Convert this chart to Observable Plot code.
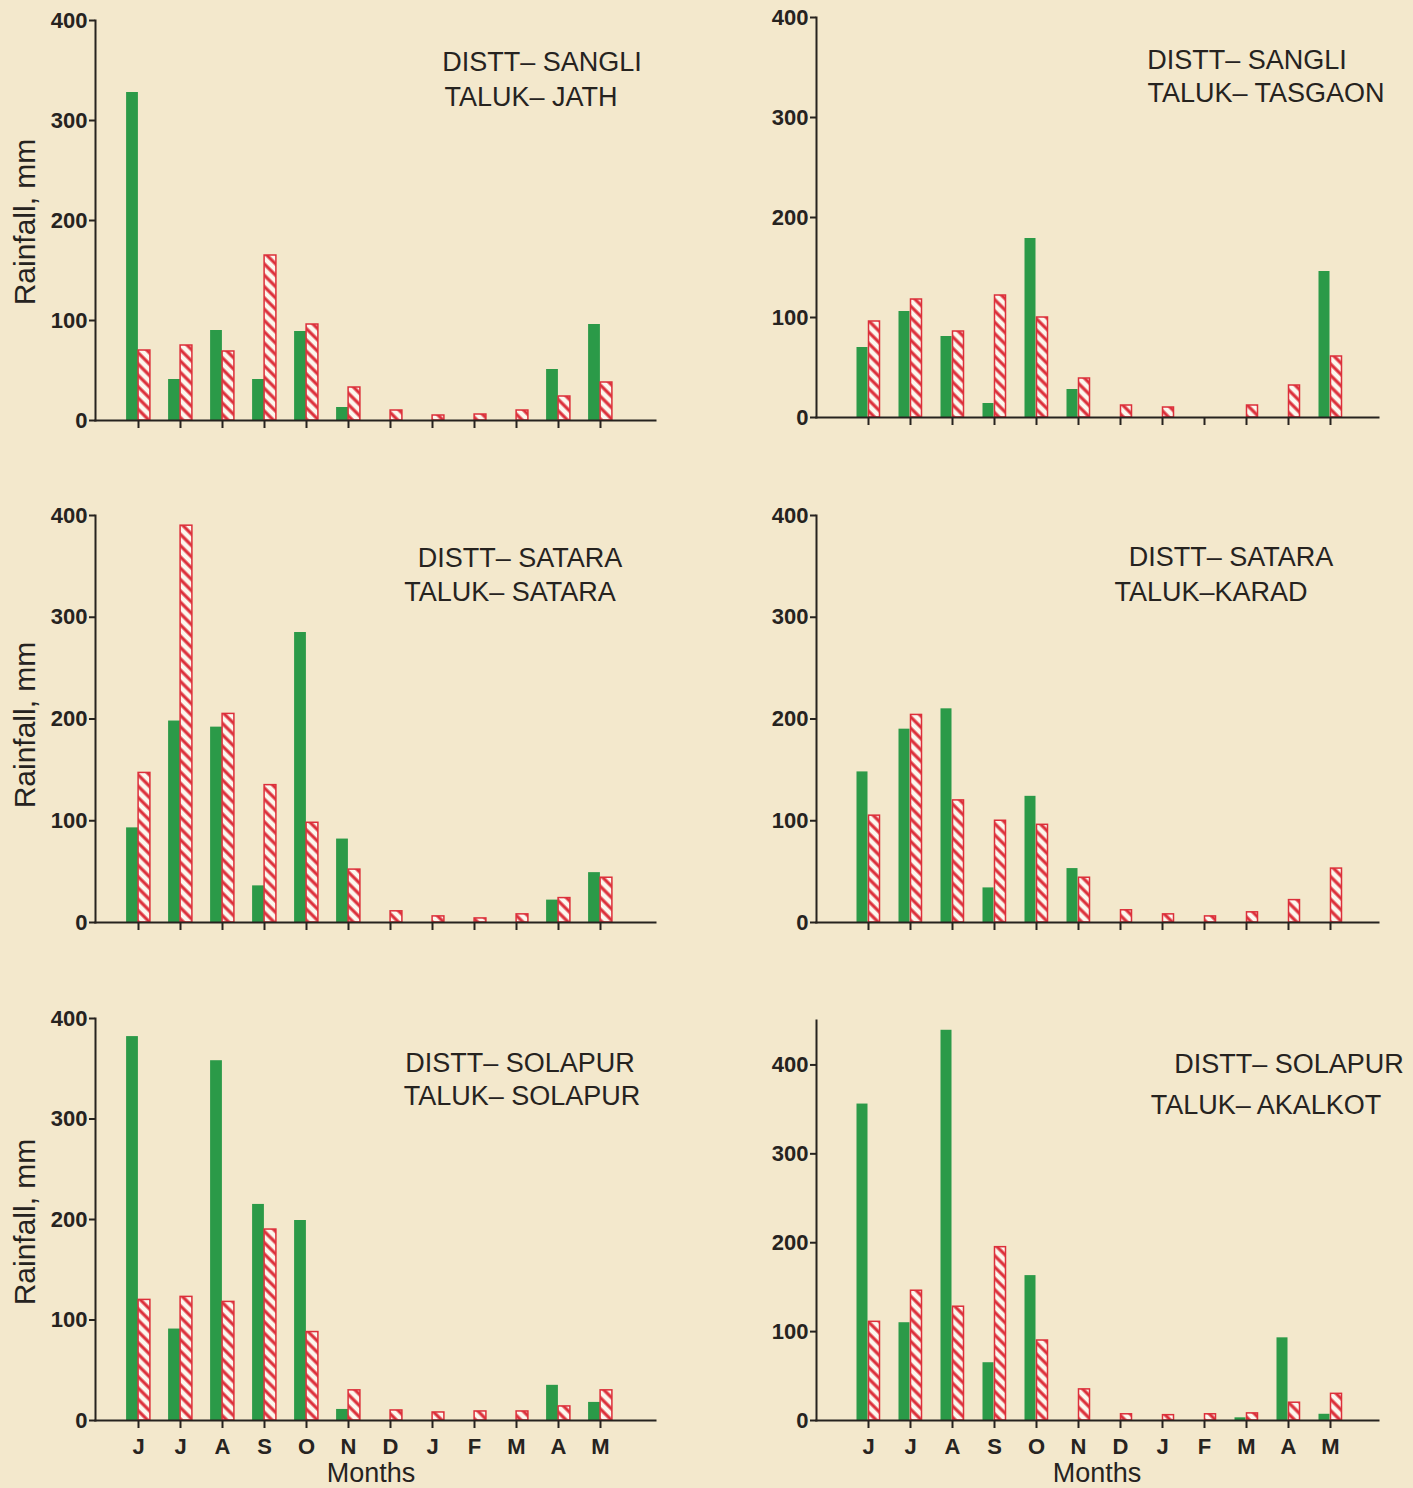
<!DOCTYPE html>
<html><head><meta charset="utf-8">
<script src="https://cdn.jsdelivr.net/npm/d3@7"></script>
<script src="https://cdn.jsdelivr.net/npm/@observablehq/plot@0.6"></script>
<style>
body{margin:0;background:#f3e8cc;}
#wrap{position:relative;width:1413px;height:1488px;overflow:hidden;background:#f3e8cc;font-family:"Liberation Sans",Arial,sans-serif;color:#26231f;}
.panel{position:absolute;}
.title{position:absolute;font-size:27px;white-space:nowrap;transform:translate(-50%,-50%);line-height:1;}
.ylab{position:absolute;font-size:30px;white-space:nowrap;line-height:1;transform:translate(-50%,-50%) rotate(-90deg);}
.xlab{position:absolute;font-size:27px;white-space:nowrap;line-height:1;transform:translate(-50%,-50%);}
</style></head><body>
<svg width="0" height="0" style="position:absolute">
<defs>
<pattern id="hatch" patternUnits="userSpaceOnUse" width="8" height="8" patternTransform="rotate(-45)">
<rect width="8" height="8" fill="#fcf7ee"/>
<line x1="4" y1="0" x2="4" y2="8" stroke="#dc2f3a" stroke-width="3.2"/>
</pattern>
</defs>
</svg>
<div id="wrap"></div>
<script>
// ---- data ----
const months = ["Jun","Jul","Aug","Sep","Oct","Nov","Dec","Jan","Feb","Mar","Apr","May"];
const monthLabels = ["J","J","A","S","O","N","D","J","F","M","A","M"];
const yTicks = [0,100,200,300,400];

const jathGreen    = [328, 41, 90, 41, 89, 13, 0, 0, 0, 0, 51, 96];
const jathRed      = [70, 75, 69, 165, 96, 33, 10, 5, 6, 10, 24, 38];
const tasgaonGreen = [70, 106, 81, 14, 179, 28, 0, 0, 0, 0, 0, 146];
const tasgaonRed   = [96, 118, 86, 122, 100, 39, 12, 10, 0, 12, 32, 61];
const sataraGreen  = [93, 198, 192, 36, 285, 82, 0, 0, 0, 0, 22, 49];
const sataraRed    = [147, 390, 205, 135, 98, 52, 11, 6, 4, 8, 24, 44];
const karadGreen   = [148, 190, 210, 34, 124, 53, 0, 0, 0, 0, 0, 0];
const karadRed     = [105, 204, 120, 100, 96, 44, 12, 8, 6, 10, 22, 53];
const solapurGreen = [382, 91, 358, 215, 199, 11, 0, 0, 0, 0, 35, 18];
const solapurRed   = [120, 123, 118, 190, 88, 30, 10, 8, 9, 9, 14, 30];
const akalkotGreen = [356, 110, 439, 65, 163, 0, 0, 0, 0, 3, 93, 7];
const akalkotRed   = [111, 146, 128, 195, 90, 35, 7, 6, 7, 8, 20, 30];

const titles = [
  ["DISTT\u2013 SANGLI", "TALUK\u2013 JATH"],
  ["DISTT\u2013 SANGLI", "TALUK\u2013 TASGAON"],
  ["DISTT\u2013 SATARA", "TALUK\u2013 SATARA"],
  ["DISTT\u2013 SATARA", "TALUK\u2013KARAD"],
  ["DISTT\u2013 SOLAPUR", "TALUK\u2013 SOLAPUR"],
  ["DISTT\u2013 SOLAPUR", "TALUK\u2013 AKALKOT"]
];
const greens = [jathGreen, tasgaonGreen, sataraGreen, karadGreen, solapurGreen, akalkotGreen];
const reds   = [jathRed, tasgaonRed, sataraRed, karadRed, solapurRed, akalkotRed];
const yMax   = [400, 400, 400, 400, 400, 450];

// ---- layout ----
const GREEN = "#2b9a48", RED = "#dc2f3a", INK = "#26231f";
const layout = [
  {left:0,   top:0,   width:706, height:460, mt:20, mb:40, ml:95,  mr:51, pad:0.635, align:0.39,
   t1:[542,62], t2:[531,97], ylab:[25,222]},
  {left:706, top:0,   width:707, height:460, mt:17, mb:43, ml:110, mr:35, pad:0.535, align:0.53,
   t1:[1247,60], t2:[1266,93]},
  {left:0,   top:490, width:706, height:470, mt:25, mb:38, ml:95,  mr:51, pad:0.635, align:0.39,
   t1:[520,558], t2:[510,592], ylab:[25,725]},
  {left:706, top:490, width:707, height:470, mt:25, mb:38, ml:110, mr:35, pad:0.535, align:0.53,
   t1:[1231,557], t2:[1211,592]},
  {left:0,   top:990, width:706, height:498, mt:28, mb:68, ml:95,  mr:51, pad:0.635, align:0.39,
   t1:[520,1063], t2:[522,1096], ylab:[25,1222], xlab:[371,1473], bottom:true},
  {left:706, top:990, width:707, height:498, mt:30, mb:68, ml:110, mr:35, pad:0.535, align:0.53,
   t1:[1289,1064], t2:[1266,1105], xlab:[1097,1473], bottom:true}
];

const wrap = document.getElementById("wrap");

layout.forEach((L, i) => {
  const rows = months.map((m, k) => ({month: m, green: greens[i][k], red: reds[i][k]}));
  const bw = d3.scaleBand().domain(months).range([L.ml, L.width - L.mr])
    .paddingInner(0).paddingOuter(L.pad).align(L.align).bandwidth();
  const gW = 12, rW = 12;
  const gInset = (bw - gW) / 2, rInset = (bw - rW) / 2;

  const plot = Plot.plot({
    width: L.width, height: L.height,
    marginTop: L.mt, marginBottom: L.mb, marginLeft: L.ml, marginRight: L.mr,
    style: {background: "transparent", fontFamily: "'Liberation Sans Narrow','Liberation Sans',sans-serif", color: INK, overflow: "visible"},
    x: {type: "band", domain: months, paddingInner: 0, paddingOuter: L.pad, align: L.align, axis: null},
    y: {domain: [0, yMax[i]], axis: null},
    marks: [
      Plot.barY(rows, {x: "month", y: "green", fill: GREEN, insetLeft: gInset, insetRight: gInset, dx: -gW / 2}),
      Plot.barY(rows, {x: "month", y: "red", fill: "url(#hatch)", stroke: RED, strokeWidth: 1.5, insetLeft: rInset, insetRight: rInset, dx: rW / 2}),
      Plot.axisY({ticks: yTicks, tickSize: 6, tickPadding: 2, fontSize: 22, fontWeight: "bold", strokeWidth: 2, label: null, stroke: INK, fill: INK}),
      Plot.axisX({tickSize: 8, tickPadding: 10, fontSize: 22, fontWeight: "bold", strokeWidth: 2, label: null, stroke: INK, fill: INK,
        tickFormat: L.bottom ? (d => monthLabels[months.indexOf(d)]) : (() => "")}),
      Plot.frame({anchor: "left", stroke: INK, strokeWidth: 2}),
      Plot.frame({anchor: "bottom", stroke: INK, strokeWidth: 2})
    ]
  });
  const div = document.createElement("div");
  div.className = "panel";
  div.style.left = L.left + "px";
  div.style.top = L.top + "px";
  div.appendChild(plot);
  wrap.appendChild(div);

  [[titles[i][0], L.t1], [titles[i][1], L.t2]].forEach(([txt, pos]) => {
    const t = document.createElement("div");
    t.className = "title";
    t.textContent = txt;
    t.style.left = pos[0] + "px";
    t.style.top = pos[1] + "px";
    wrap.appendChild(t);
  });
  if (L.ylab) {
    const t = document.createElement("div");
    t.className = "ylab";
    t.textContent = "Rainfall, mm";
    t.style.left = L.ylab[0] + "px";
    t.style.top = L.ylab[1] + "px";
    wrap.appendChild(t);
  }
  if (L.xlab) {
    const t = document.createElement("div");
    t.className = "xlab";
    t.textContent = "Months";
    t.style.left = L.xlab[0] + "px";
    t.style.top = L.xlab[1] + "px";
    wrap.appendChild(t);
  }
});
</script>
</body></html>
